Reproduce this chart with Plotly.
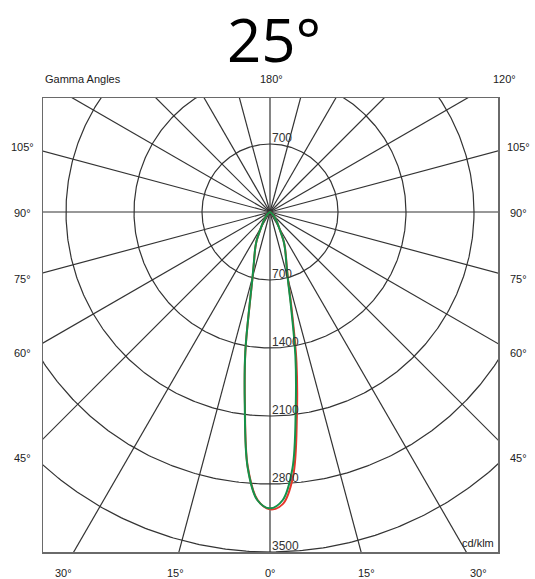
import numpy as np
import plotly.graph_objects as go

# ---- data (cd/klm) ----
gamma_deg = [0, 2.5, 5, 7.5, 10, 12.5, 15, 17.5, 20, 22.5, 25, 30, 35, 40, 45, 50, 60, 70, 80, 90]
c0_red = [3060, 3010, 2730, 2120, 1570, 1035, 718, 570, 478, 405, 335, 190, 124, 82, 52, 31, 10, 3, 0, 0]
c180_red = [3060, 2965, 2630, 1980, 1460, 960, 690, 550, 462, 392, 325, 183, 118, 78, 49, 29, 9, 3, 0, 0]
c90_green = [3050, 2970, 2650, 2030, 1505, 1000, 705, 562, 472, 400, 332, 188, 122, 80, 51, 30, 10, 3, 0, 0]
c270_green = [3050, 2970, 2640, 1990, 1465, 965, 695, 555, 465, 395, 328, 185, 120, 79, 50, 30, 9, 3, 0, 0]

ring_values = [700, 1400, 2100, 2800, 3500]
ray_step_deg = 15
title_text = "25°"
side_labels = ["105°", "90°", "75°", "60°", "45°"]
bottom_labels = ["30°", "15°", "0°", "15°", "30°"]
top_labels = ["Gamma Angles", "180°", "120°"]
unit_label = "cd/klm"

# ---- layout geometry (page pixels) ----
W, H = 535, 579
L, R, T, B = 43, 37, 98, 27
pw, ph = W - L - R, H - T - B
scale = 68 / 700.0  # px per cd/klm
cx, cy = 270, 212
x_range = [(L - cx) / scale, (W - R - cx) / scale]
y_range = [(cy - (H - B)) / scale, (cy - T) / scale]


def px2paper(px, py):
    return (px - L) / pw, ((H - B) - py) / ph


def polar_xy(g_right, I_right, I_left):
    g = np.radians(np.array(g_right, dtype=float))
    Ir = np.array(I_right, dtype=float)
    Il = np.array(I_left, dtype=float)
    xl = -Il[::-1] * np.sin(g[::-1])
    yl = -Il[::-1] * np.cos(g[::-1])
    xr = Ir[1:] * np.sin(g[1:])
    yr = -Ir[1:] * np.cos(g[1:])
    return np.concatenate([xl, xr]), np.concatenate([yl, yr])


fig = go.Figure()

grid_col = "#333333"

# rings
t = np.linspace(0, 2 * np.pi, 721)
rx, ry = [], []
for r in ring_values:
    rx += list(r * np.cos(t)) + [None]
    ry += list(r * np.sin(t)) + [None]
fig.add_trace(go.Scatter(x=rx, y=ry, mode="lines", line=dict(color=grid_col, width=1.2),
                         hoverinfo="skip", showlegend=False))

# rays
sx, sy = [], []
Rbig = 8000
for a in range(0, 360, ray_step_deg):
    ar = np.radians(a)
    sx += [0, Rbig * np.sin(ar), None]
    sy += [0, -Rbig * np.cos(ar), None]
fig.add_trace(go.Scatter(x=sx, y=sy, mode="lines", line=dict(color=grid_col, width=1.2),
                         hoverinfo="skip", showlegend=False))

# curves
xr_, yr_ = polar_xy(gamma_deg, c0_red, c180_red)
fig.add_trace(go.Scatter(x=xr_, y=yr_, mode="lines", line=dict(color="#e5372c", width=2, shape="spline"),
                         name="C0-C180", showlegend=False))
xg_, yg_ = polar_xy(gamma_deg, c90_green, c270_green)
fig.add_trace(go.Scatter(x=xg_, y=yg_, mode="lines", line=dict(color="#14924a", width=2, shape="spline"),
                         name="C90-C270", showlegend=False))

ann = []
small = dict(family="Liberation Sans, Arial", size=11, color="#222222")
ring_font = dict(family="Liberation Sans, Arial", size=12, color="#333333")

# ring labels
for r in ring_values:
    ann.append(dict(x=0, y=-r, xref="x", yref="y", text=str(r), showarrow=False,
                    xanchor="left", yanchor="bottom", xshift=0, yshift=-3, font=ring_font))
ann.append(dict(x=0, y=ring_values[0], xref="x", yref="y", text=str(ring_values[0]), showarrow=False,
                xanchor="left", yanchor="bottom", xshift=0, yshift=-3, font=ring_font))

# title
px_, py_ = px2paper(274, 39)
ann.append(dict(x=px_, y=py_, xref="paper", yref="paper", text=title_text, showarrow=False,
                xanchor="center", yanchor="middle",
                font=dict(family="Open Sans", size=60, color="#000000")))

# top labels
for txt, (x, y, anc) in zip(top_labels, [(43, 79, "left"), (271, 79, "center"), (504, 79, "center")]):
    px_, py_ = px2paper(x, y)
    ann.append(dict(x=px_, y=py_, xref="paper", yref="paper", text=txt, showarrow=False,
                    xanchor=anc, yanchor="middle", font=small))

# side labels
side_y = [147, 213, 279, 353, 458]
for txt, y in zip(side_labels, side_y):
    for x in (22, 518):
        px_, py_ = px2paper(x, y)
        ann.append(dict(x=px_, y=py_, xref="paper", yref="paper", text=txt, showarrow=False,
                        xanchor="center", yanchor="middle", font=small))

# bottom labels
bottom_x = [63, 175, 270, 366, 478]
for txt, x in zip(bottom_labels, bottom_x):
    px_, py_ = px2paper(x, 573)
    ann.append(dict(x=px_, y=py_, xref="paper", yref="paper", text=txt, showarrow=False,
                    xanchor="center", yanchor="middle", font=small))

# unit label
px_, py_ = px2paper(496, 543)
ann.append(dict(x=px_, y=py_, xref="paper", yref="paper", text=unit_label, showarrow=False,
                xanchor="right", yanchor="middle", font=small))

axis_common = dict(showgrid=False, zeroline=False, showticklabels=False, ticks="",
                   showline=True, linecolor="#6a6a6a", linewidth=1.5, mirror=True, fixedrange=True)
fig.update_layout(
    width=W, height=H,
    margin=dict(l=L, r=R, t=T, b=B, pad=0),
    paper_bgcolor="white", plot_bgcolor="white",
    xaxis=dict(range=x_range, **axis_common),
    yaxis=dict(range=y_range, **axis_common),
    annotations=ann,
    showlegend=False,
    hovermode=False,
)

fig.write_html(
    "out.html",
    config={"displayModeBar": False, "staticPlot": True},
    post_script="document.body.style.margin='0px';document.body.style.overflow='hidden';",
)
